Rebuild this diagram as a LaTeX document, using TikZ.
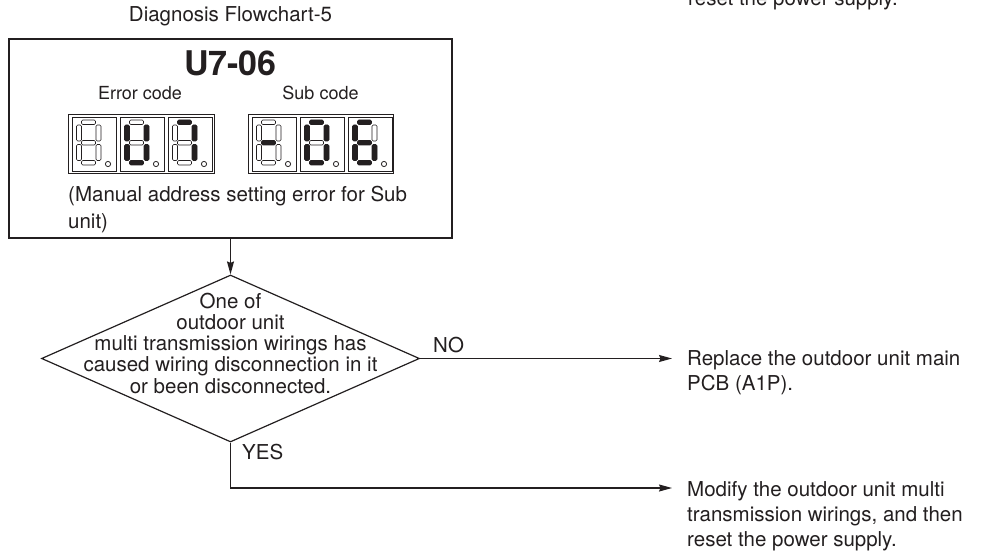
\documentclass[tikz,border=0pt]{standalone}
\usepackage{fontspec}
\setmainfont{TeX Gyre Heros}
\usetikzlibrary{shapes.geometric,arrows.meta}
\definecolor{ink}{HTML}{231F20}

% one cell of a 7-segment display, #3..#9 = segments a..g (lit/unlit)
\newcommand{\digitcell}[9]{%
  \begin{scope}[shift={(#1,#2)}]
    \draw[cellframe] (0,0) rectangle (44,54.5);
    \draw[#3] (9.5,3) rectangle (23.5,7.5);
    \draw[#4] (24,8) rectangle (29,24);
    \draw[#5] (24,27.5) rectangle (29,43.5);
    \draw[#6] (9.5,43.5) rectangle (23.5,48);
    \draw[#7] (4.5,27.5) rectangle (9.5,43.5);
    \draw[#8] (4.5,8) rectangle (9.5,24);
    \draw[#9] (9.5,23.5) rectangle (23.5,28);
    \draw[cellframe] (36,47) circle (2.6);
  \end{scope}}

\begin{document}
\begin{tikzpicture}[x=1pt, y=-1pt,
    every node/.style={text=ink, inner sep=0pt},
    body/.style={font=\fontsize{20.5}{25}\selectfont},
    codetext/.style={font=\fontsize{18}{22}\selectfont},
    flow/.style={draw=ink, line width=1.2pt, -{Stealth[length=13pt,width=7pt,inset=1.5pt]}},
    decision/.style={diamond, draw=ink, line width=1.2pt, minimum width=378pt, minimum height=167pt},
    dispframe/.style={draw=ink, line width=1pt},
    cellframe/.style={draw=ink, line width=0.8pt},
    lit/.style={fill=ink, draw=ink, line width=0.6pt, rounded corners=1.2pt},
    unlit/.style={draw=ink, line width=0.6pt, rounded corners=1.2pt}]
  \useasboundingbox (0,0) rectangle (981,553);
  \fill[white] (0,0) rectangle (981,553);

  % tail of the previous chart
  \node[body, anchor=base west] (prevtail) at (688,6) {reset the power supply.};

  % ============ CODE BOX ============
  \node[body, anchor=base] (title) at (230.5,22) {Diagnosis Flowchart-5};
  \node[draw=ink, line width=1.4pt, minimum width=443pt, minimum height=199pt] (codebox) at (230.5,138.5) {};
  \node[font=\bfseries\fontsize{34}{38}\selectfont, anchor=base] (code) at (230.5,76) {U7-06};
  \node[codetext, anchor=base] (errlabel) at (140,100) {Error code};
  \node[codetext, anchor=base] (sublabel) at (320.5,100) {Sub code};

  % error code display: blank, U, 7
  \draw[dispframe] (68,114.5) rectangle (214,174);
  \digitcell{72}{117}{unlit}{unlit}{unlit}{unlit}{unlit}{unlit}{unlit}
  \digitcell{120}{117}{unlit}{lit}{lit}{lit}{lit}{lit}{unlit}
  \digitcell{168}{117}{lit}{lit}{lit}{unlit}{unlit}{unlit}{unlit}

  % sub code display: -, 0, 6
  \draw[dispframe] (248,114.5) rectangle (393.5,174);
  \digitcell{252}{117}{unlit}{unlit}{unlit}{unlit}{unlit}{unlit}{lit}
  \digitcell{300}{117}{lit}{lit}{lit}{lit}{lit}{lit}{unlit}
  \digitcell{348}{117}{lit}{unlit}{lit}{lit}{lit}{lit}{lit}

  \node[font=\fontsize{20.5}{27}\selectfont, anchor=north west, align=left] (desc) at (68,185.5)
    {(Manual address setting error for Sub\\unit)};

  % ============ DECISION ============
  \node[decision] (check) at (230.5,358.5) {};
  \node[font=\fontsize{20.5}{21.3}\selectfont, anchor=north, align=center] (checktext) at (230.5,292.5)
    {One of\\outdoor unit\\multi transmission wirings has\\caused wiring disconnection in it\\or been disconnected.};
  \draw[flow] (codebox.south) -- (check.north);

  % ============ BRANCHES ============
  \coordinate (noend) at (672,358.5);
  \coordinate (yesend) at (672,488);
  \draw[flow] (check.east) -- (noend);
  \draw[flow] (check.south) |- (yesend);
  \node[body, anchor=base west] (nolabel) at (433,352) {NO};
  \node[body, anchor=base west] (yeslabel) at (242,459) {YES};

  \node[body, anchor=north west, align=left] (replace) at (687,350.5)
    {Replace the outdoor unit main\\PCB (A1P).};
  \node[body, anchor=north west, align=left] (modify) at (687,481.5)
    {Modify the outdoor unit multi\\transmission wirings, and then\\reset the power supply.};
\end{tikzpicture}
\end{document}
